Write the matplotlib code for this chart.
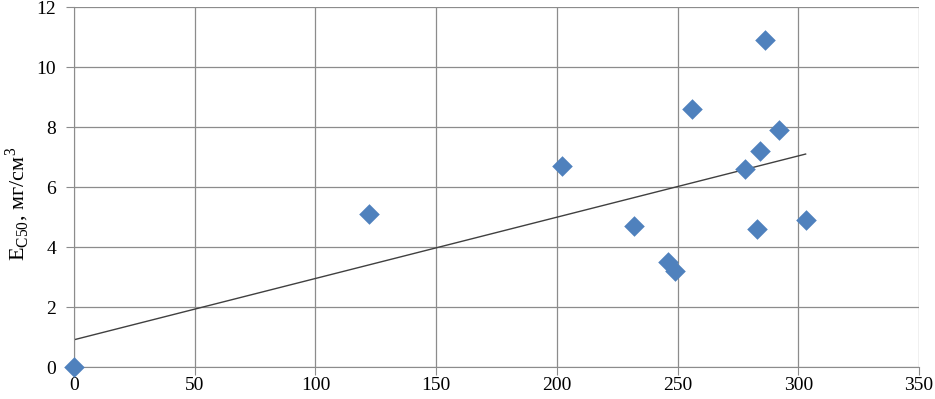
import matplotlib

matplotlib.use("Agg")
import matplotlib.pyplot as plt
import numpy as np

x_vals = [0, 122, 202, 232, 246, 249, 256, 278, 283, 284, 286, 292, 303]
y_vals = [0, 5.1, 6.7, 4.7, 3.5, 3.2, 8.6, 6.6, 4.6, 7.2, 10.9, 7.9, 4.9]
x_ticks = [0, 50, 100, 150, 200, 250, 300, 350]
y_ticks = [0, 2, 4, 6, 8, 10, 12]

plt.rcParams["font.family"] = ["Liberation Serif", "DejaVu Serif"]
plt.rcParams["mathtext.fontset"] = "custom"
plt.rcParams["mathtext.rm"] = "Liberation Serif"

figura = plt.figure(figsize=(9.35, 3.99), dpi=100)
eje = figura.add_axes([0.0791, 0.0794, 0.9039, 0.9023])

eje.scatter(x_vals, y_vals, marker="D", s=110, color="#4F81BD", zorder=3,
            linewidths=0, clip_on=False)

# линейный тренд
a, b = np.polyfit(x_vals, y_vals, 1)
x_lin = np.array([min(x_vals), max(x_vals)])
eje.plot(x_lin, a * x_lin + b, color="#404040", lw=1.0, zorder=2)

eje.set_xlim(0, 350)
eje.set_ylim(0, 12)
eje.set_xticks(x_ticks)
eje.set_yticks(y_ticks)
eje.grid(True, color="#8c8c8c", lw=0.9)
eje.set_axisbelow(True)
for lado in eje.spines.values():
    lado.set_color("#8c8c8c")
eje.spines["top"].set_visible(False)
eje.spines["right"].set_visible(False)
eje.tick_params(axis="both", direction="out", length=6, color="#8c8c8c",
                labelsize=14)
eje.tick_params(axis="x", pad=1)
eje.tick_params(axis="y", pad=7)
eje.set_ylabel(r"E$_{\mathrm{C50}}$, мг/см$^{\mathrm{3}}$", fontsize=16)
eje.yaxis.set_label_coords(-0.051, 0.455)

figura.savefig("out.png", dpi=100)
